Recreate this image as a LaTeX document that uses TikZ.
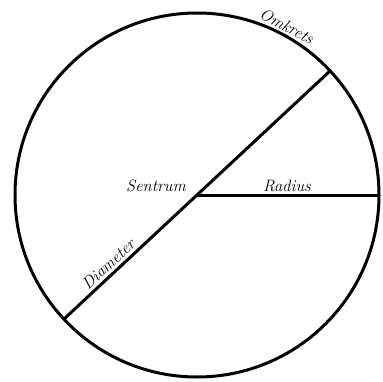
\documentclass[tikz,border=0pt]{standalone}
\usepackage{fontspec}
\begin{document}
\begin{tikzpicture}[x=1pt,y=-1pt,
  edge/.style={line width=3pt},
  lbl/.style={font=\fontsize{16.5}{19}\selectfont\itshape, inner sep=1pt}]
\useasboundingbox (0,0) rectangle (382,382);
\coordinate (c) at (197,195);
\node[circle, draw, line width=3pt, minimum size=364pt, inner sep=0pt] (circ) at (c) {};
\path (c) ++(-43:182) coordinate (dA);
\path (c) ++(-223:182) coordinate (dB);
\path (c) ++(0:182) coordinate (rA);
\draw[edge] (dB) -- (dA);
\draw[edge] (c) -- (rA);
\node[lbl, anchor=south] (sentrum) at (156,193) {Sentrum};
\node[lbl, anchor=south] (radius) at (287,193) {Radius};
\path (c) ++(-223:112) coordinate (dm);
\node[lbl, anchor=south, rotate=43, inner ysep=4pt] (diam) at (dm) {Diameter};
\path (c) ++(-62:184) coordinate (om);
\node[lbl, anchor=south, rotate=-28] (omk) at (om) {Omkrets};
\end{tikzpicture}
\end{document}
